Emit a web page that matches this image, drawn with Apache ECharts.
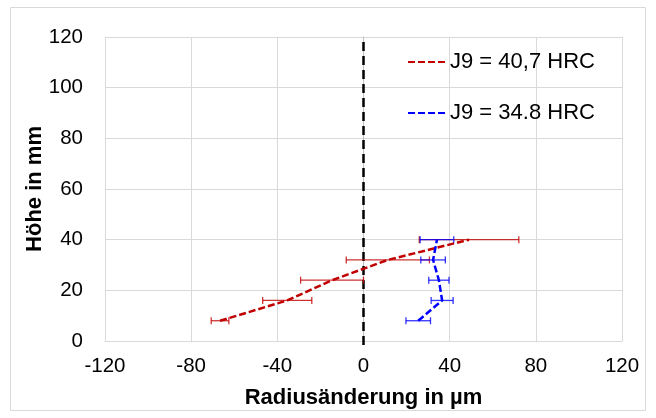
<!DOCTYPE html>
<html>
<head>
<meta charset="utf-8">
<script src="https://cdn.jsdelivr.net/npm/echarts@6/dist/echarts.min.js"></script>
<style>
html,body{margin:0;padding:0;background:#fff;}
#chart{width:656px;height:418px;}
</style>
</head>
<body>
<div id="chart"></div>
<script>
// Data
var heights = [8, 16, 24, 32, 40];
var redName = 'J9 = 40,7 HRC';
var redX = [-66.6, -35.4, -14.6, 11.3, 49.0];
var redErr = [4.1, 11.4, 14.6, 19.3, 23.1];
var blueName = 'J9 = 34.8 HRC';
var blueX = [25.4, 36.5, 35.0, 32.3, 34.1];
var blueErr = [5.7, 5.1, 4.7, 5.7, 7.8];
var xTicks = [-120, -80, -40, 0, 40, 80, 120];
var yTicks = [0, 20, 40, 60, 80, 100, 120];
var zeroLine = [[0, -1.6], [0, 120]];

var FONT = 'Liberation Sans, Arial, sans-serif';
var DASH_ICON = 'path://M0,0h7v2h-7z M10,0h7v2h-7z M20,0h7v2h-7z M30,0h7v2h-7z';

function pts(xs, ys) { return xs.map(function (x, i) { return [x, ys[i]]; }); }
function errData(xs, errs, ys) { return xs.map(function (x, i) { return [x - errs[i], x + errs[i], ys[i]]; }); }

function errRender(color) {
  return function (params, api) {
    var p1 = api.coord([api.value(0), api.value(2)]);
    var p2 = api.coord([api.value(1), api.value(2)]);
    var h = 3.5;
    var st = { stroke: color, lineWidth: 1.3, opacity: 0.8 };
    return {
      type: 'group',
      children: [
        { type: 'line', shape: { x1: p1[0], y1: p1[1], x2: p2[0], y2: p2[1] }, style: st },
        { type: 'line', shape: { x1: p1[0], y1: p1[1] - h, x2: p1[0], y2: p1[1] + h }, style: st },
        { type: 'line', shape: { x1: p2[0], y1: p2[1] - h, x2: p2[0], y2: p2[1] + h }, style: st }
      ]
    };
  };
}

var chart = echarts.init(document.getElementById('chart'), null, { renderer: 'canvas' });
chart.setOption({
  animation: false,
  backgroundColor: '#fff',
  textStyle: { fontFamily: FONT },
  graphic: [{
    type: 'rect', shape: { x: 10.5, y: 7.5, width: 635, height: 403 },
    style: { fill: 'none', stroke: '#d9d9d9', lineWidth: 1 }, silent: true, z: -1
  }],
  grid: { left: 105, right: 34, top: 37, bottom: 77 },
  legend: {
    orient: 'vertical', left: 403, top: 46, itemGap: 29,
    itemWidth: 37, itemHeight: 2,
    icon: DASH_ICON,
    textStyle: { fontFamily: FONT, fontSize: 22, color: '#000' },
    data: [redName, blueName]
  },
  xAxis: {
    type: 'value', min: -120, max: 120, interval: 40,
    name: 'Radiusänderung in µm', nameLocation: 'middle', nameGap: 46,
    nameMoveOverlap: false,
    nameTextStyle: { fontFamily: FONT, fontSize: 22, fontWeight: 'bold', color: '#000' },
    axisLine: { show: true, onZero: false, lineStyle: { color: '#d9d9d9' } },
    axisTick: { show: false },
    axisLabel: { fontFamily: FONT, fontSize: 20.5, color: '#000', margin: 15,
      formatter: function (v) { return xTicks.indexOf(v) >= 0 ? String(v) : ''; } },
    splitLine: { show: true, lineStyle: { color: '#d9d9d9', width: 1 } }
  },
  yAxis: {
    type: 'value', min: 0, max: 120, interval: 20,
    name: 'Höhe in mm', nameLocation: 'middle', nameGap: 59,
    nameMoveOverlap: false,
    nameTextStyle: { fontFamily: FONT, fontSize: 22, fontWeight: 'bold', color: '#000' },
    axisLine: { show: true, lineStyle: { color: '#bfbfbf' } },
    axisTick: { show: false },
    axisLabel: { fontFamily: FONT, fontSize: 20.5, color: '#000', margin: 22,
      formatter: function (v) { return yTicks.indexOf(v) >= 0 ? String(v) : ''; } },
    splitLine: { show: true, lineStyle: { color: '#d9d9d9', width: 1 } }
  },
  series: [
    {
      name: 'zero', type: 'line', data: zeroLine, symbol: 'none', clip: false,
      lineStyle: { color: '#000', width: 2.5, type: [9, 5] }, z: 1, silent: true
    },
    {
      name: redName + ' err', type: 'custom', data: errData(redX, redErr, heights),
      renderItem: errRender('#C00000'), encode: { x: [0, 1], y: 2 }, z: 2, clip: false
    },
    {
      name: blueName + ' err', type: 'custom', data: errData(blueX, blueErr, heights),
      renderItem: errRender('#0000FF'), encode: { x: [0, 1], y: 2 }, z: 2, clip: false
    },
    {
      name: redName, type: 'line', data: pts(redX, heights), symbol: 'none', showSymbol: false,
      color: '#C00000', itemStyle: { color: '#C00000' },
      lineStyle: { color: '#C00000', width: 2.5, type: [7, 3] }, z: 3
    },
    {
      name: blueName, type: 'line', data: pts(blueX, heights), symbol: 'none', showSymbol: false,
      color: '#0000FF', itemStyle: { color: '#0000FF' },
      lineStyle: { color: '#0000FF', width: 2.5, type: [7, 3] }, z: 3
    }
  ]
});
</script>
</body>
</html>
